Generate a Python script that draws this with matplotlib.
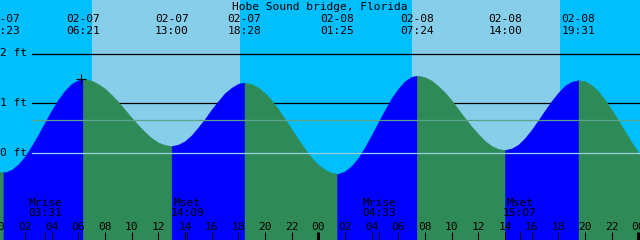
import matplotlib
matplotlib.use("Agg")
from matplotlib import pyplot as plt
import numpy as np

# tide data, Hobe Sound bridge, 02-07 .. 02-08 (hours from 02-07 00:00)
station = "Hobe Sound bridge, Florida"

# heights read every half hour, 00:00 02-07 .. 01:00 02-09
hours = [i / 2 for i in range(99)]
heights = [-0.39, -0.40, -0.35, -0.24, -0.08, 0.13, 0.36, 0.61, 0.85, 1.07,
           1.25, 1.39, 1.46, 1.48, 1.45, 1.38, 1.29, 1.16, 1.02, 0.86,
           0.70, 0.55, 0.41, 0.29, 0.20, 0.15, 0.13, 0.16, 0.23, 0.35,
           0.51, 0.68, 0.87, 1.04, 1.20, 1.31, 1.39, 1.41, 1.38, 1.31,
           1.20, 1.05, 0.87, 0.67, 0.47, 0.26, 0.07, -0.11, -0.25, -0.35,
           -0.41, -0.43, -0.38, -0.27, -0.11, 0.11, 0.35, 0.61, 0.86, 1.10,
           1.29, 1.44, 1.53, 1.55, 1.52, 1.45, 1.34, 1.21, 1.05, 0.87,
           0.69, 0.52, 0.37, 0.23, 0.13, 0.07, 0.05, 0.08, 0.16, 0.29,
           0.46, 0.65, 0.85, 1.04, 1.21, 1.35, 1.43, 1.46, 1.44, 1.36,
           1.23, 1.06, 0.86, 0.65, 0.42, 0.20, 0.00, -0.17, -0.29]

ext_hours = [0.383, 6.35, 13.0, 18.467, 25.417, 31.4, 38.0, 43.517]
ext_heights = [-0.40, 1.48, 0.13, 1.41, -0.43, 1.55, 0.05, 1.46]
ext_dates = ["02-07", "02-07", "02-07", "02-07", "02-08", "02-08", "02-08", "02-08"]
ext_times = ["00:23", "06:21", "13:00", "18:28", "01:25", "07:24", "14:00", "19:31"]

sunrise = [7.03, 31.03]
sunset = [18.13, 42.13]

moon_hours = [3.517, 14.15, 28.55, 39.117]
moon_names = ["Mrise", "Mset", "Mrise", "Mset"]
moon_times = ["03:31", "14:09", "04:33", "15:07"]

mean_level = 0.65
ft_levels = [0, 1, 2]

DAY = "#87CEEB"
NIGHT = "#00BFFF"
RISE = "#0000FF"
FALL = "#2E8B57"

plt.rcParams['font.family'] = ['DejaVu Sans Mono']
fs = 8.1

fig = plt.figure(figsize=(6.4, 2.4), dpi=100)
ax = fig.add_axes([0, 0, 1, 1])
ax.set_xlim(0.125, 48.125)
ax.set_ylim(-87.5 / 49.5, 152.5 / 49.5)
ax.axis("off")
fig.patch.set_facecolor(NIGHT)

# night / day background
ax.axvspan(-1, 50, color=NIGHT, zorder=0, lw=0)
for a, b in zip(sunrise, sunset):
    ax.axvspan(a, b, color=DAY, zorder=0, lw=0)

xa = ax.get_xaxis_transform()
x0 = 32 / 640  # left end of the level lines

# black level lines (behind the tide)
for lv in ft_levels[1:]:
    ax.axhline(lv, xmin=x0, xmax=1, color="black", lw=0.9, zorder=1)

# tide curve: readings plus the extremes
t = np.array(hours + ext_hours, dtype=float)
h = np.array(heights + ext_heights, dtype=float)
order = np.argsort(t, kind="stable")
t, h = t[order], h[order]

# segment i ends at extreme i: blue if it rises to a high, green if it falls to a low
bounds = [-1] + ext_hours + [60]
for i in range(len(bounds) - 1):
    m = (t >= bounds[i]) & (t <= bounds[i + 1])
    if i < len(ext_heights):
        rising = ext_heights[i] > mean_level
    else:
        rising = ext_heights[-1] < mean_level
    col = RISE if rising else FALL
    ax.fill_between(t[m], -3, h[m], color=col, lw=0.4, edgecolor=col, zorder=2)

# datum and mean lines over the tide
ax.axhline(0, xmin=x0, xmax=1, color="#9dd0e6", lw=0.9, zorder=3)
ax.axhline(mean_level, xmin=x0, xmax=1, color="#5aa58a", lw=0.9, zorder=3)

for lv in ft_levels:
    ax.text(0.15, lv, "%d ft" % lv, fontsize=fs, va="center", ha="left", zorder=4)

# mark near first high
ax.plot(6.2, 1.48, marker="+", color="black", ms=6.5, mew=0.8, zorder=5)


def fy(py):
    return 1 - py / 240.0


# title and extreme labels
ax.text(24.1, fy(9.5), station, fontsize=fs, ha="center", va="baseline", transform=xa, zorder=5)
for xh, d, tm in zip(ext_hours, ext_dates, ext_times):
    ax.text(xh, fy(21.5), d, fontsize=fs, ha="center", va="baseline", transform=xa, zorder=5)
    ax.text(xh, fy(34.5), tm, fontsize=fs, ha="center", va="baseline", transform=xa, zorder=5)

# moon labels
for xh, nm, tm in zip(moon_hours, moon_names, moon_times):
    ax.text(xh, fy(205.5), nm, fontsize=fs, ha="center", va="baseline", transform=xa, zorder=5)
    ax.text(xh, fy(216.5), tm, fontsize=fs, ha="center", va="baseline", transform=xa, zorder=5)

# hour labels and ticks
for hr in range(0, 50, 2):
    ax.text(hr, fy(229.5), "%02d" % (hr % 24), fontsize=fs, ha="center", va="baseline",
            transform=xa, zorder=5)
    lw = 2.2 if hr % 24 == 0 else 0.75
    ax.plot([hr, hr], [0, 8 / 240.0], color="black", lw=lw, transform=xa, zorder=5,
            solid_capstyle="butt")
for xh in moon_hours:
    ax.plot([xh, xh], [0, 8 / 240.0], color="black", lw=0.75, transform=xa, zorder=5,
            solid_capstyle="butt")

fig.savefig("out.png", dpi=100, facecolor=NIGHT)
